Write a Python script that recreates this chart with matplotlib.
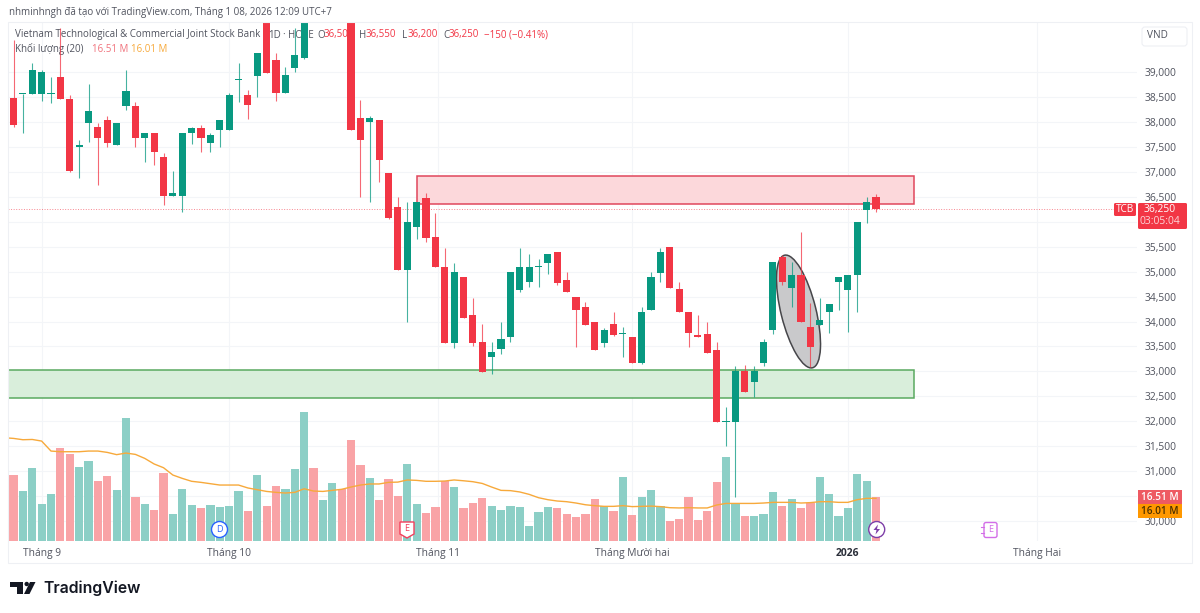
import numpy as np
import matplotlib
matplotlib.use("Agg")
import matplotlib.pyplot as plt
from matplotlib.patches import Ellipse, Rectangle, Circle, Polygon, FancyBboxPatch
from matplotlib.transforms import Affine2D

# ===== DATA =====

opens = [38470, 38550, 38560, 38560, 38550, 38900, 38465, 37490, 37970, 37890,
         38040, 37540, 38320, 38320, 37680, 37780, 37300, 36520, 36520, 37780,
         37885, 37585, 37830, 37830, 38840, 38530, 38925, 40200, 39240, 38580,
         39080, 39280, 40900, 40400, 40800, 41200, 40500, 38085, 37990, 38030,
         36980, 36290, 35040, 35890, 36480, 35690, 35100, 33575, 34890, 34140,
         33585, 33290, 33440, 33690, 34630, 34785, 35090, 35180, 35385, 34840,
         34485, 34285, 33990, 33575, 33945, 33740, 33690, 33175, 34225, 34980,
         35490, 34645, 34190, 33735, 33745, 33435, 31990, 31990, 33000, 32785,
         33175, 33830, 35300, 34675, 34930, 33890, 33930, 34185, 34785, 34630,
         34930, 36235, 36500]
highs = [39640, 38560, 39190, 39040, 38900, 39890, 38540, 37640, 38760, 37980,
         38110, 37980, 39050, 38400, 37780, 37780, 37380, 37015, 37780, 37900,
         37940, 37780, 38030, 38585, 39190, 38640, 39385, 40400, 39385, 39100,
         39880, 40200, 41000, 40900, 41300, 41300, 40700, 38440, 38125, 38030,
         36980, 36490, 36390, 36390, 36580, 36180, 35480, 35180, 34890, 34480,
         33945, 33585, 33985, 34985, 35480, 35350, 35245, 35350, 35385, 34985,
         34485, 34400, 33990, 33875, 34185, 33880, 33690, 34285, 34985, 35480,
         35490, 34785, 34190, 34130, 34000, 33585, 32295, 33100, 33130, 33100,
         33650, 35185, 35335, 35185, 35790, 34365, 34465, 34345, 34900, 34930,
         36000, 36490, 36550]
lows = [37900, 37780, 38550, 38425, 38370, 38450, 37000, 36880, 37600, 36735,
        37500, 37540, 38240, 37500, 37200, 37140, 36335, 36520, 36200, 37560,
        37400, 37400, 37500, 37830, 38405, 38050, 38490, 38985, 38425, 38580,
        38995, 39255, 40400, 40300, 40700, 40600, 37840, 36490, 36400, 36790,
        36060, 35040, 34000, 35650, 35590, 35090, 33575, 33460, 34075, 33515,
        32985, 32950, 33340, 33595, 34600, 34690, 34685, 34950, 34740, 34590,
        33495, 33930, 33430, 33495, 33700, 33290, 33175, 33140, 34225, 34800,
        34680, 34185, 33495, 33685, 33375, 31990, 31505, 30490, 32590, 32495,
        33100, 33750, 34730, 34295, 33985, 33080, 33930, 33765, 34230, 33795,
        34195, 35970, 36200]
closes = [37940, 38575, 39050, 39000, 38575, 38465, 37010, 37540, 38225, 37680,
          37585, 37980, 38610, 37680, 37780, 37390, 36520, 36575, 37780, 37885,
          37685, 37740, 38030, 38530, 38865, 38330, 39385, 38985, 38585, 38940,
          39345, 40100, 40400, 40800, 41200, 40600, 37840, 37630, 38085, 37240,
          36080, 35040, 36000, 36390, 35680, 35090, 33575, 34985, 34075, 33575,
          32985, 33380, 33640, 34985, 35090, 35090, 35120, 35350, 34780, 34590,
          34230, 33930, 33430, 33830, 33735, 33765, 33175, 34185, 34890, 35385,
          34680, 34185, 33775, 33685, 33375, 31990, 32015, 33000, 32590, 33000,
          33590, 35185, 34785, 34930, 33985, 33485, 34030, 34345, 34900, 34930,
          36000, 36390, 36250]

# volume in millions
volumes = [24.75, 18.6, 27.25, 13.75, 17.6, 35, 32.5, 27.75, 29.9, 22.5,
           24.4, 19, 46.25, 16.5, 13.75, 11.75, 25.6, 10.25, 19.5, 13.5,
           12.25, 13.5, 12.75, 13.25, 18.6, 11.25, 24.9, 13.25, 20.5, 19.6,
           26.9, 48.5, 27.4, 15.25, 21.75, 19.6, 37.75, 28.6, 23.6, 15.5,
           23.4, 16.75, 29, 13.75, 10.5, 12.75, 22.5, 20.4, 12.5, 14.25,
           16, 13, 11.5, 13, 12.75, 5.5, 11, 12.75, 12.25, 10,
           9, 10.25, 15.75, 13, 11.25, 24.1, 9.75, 16.5, 19, 13,
           7.5, 8.25, 16.5, 7.75, 11.25, 22.25, 31.4, 14.4, 9.25, 9.5,
           10, 18.5, 13, 15.6, 12.25, 14.25, 24.1, 17.5, 9.5, 12.25,
           25.25, 22.6, 16.51]

# volume MA(20), first value belongs to the bar just left of the chart
vol_ma = [38.75, 38.5, 38, 38.1, 37.5, 33.75, 33.5, 33.5, 33.5, 33.75,
          33.75, 33.25, 32.4, 33, 32.5, 31, 28.9, 27.5, 24.75, 23.5,
          22.4, 22, 21.5, 21, 21, 21, 19.9, 19.25, 18.6, 18.25,
          18, 18.25, 19.6, 18.75, 18.6, 19, 19.4, 20.25, 21, 21.4,
          21.4, 22, 22.1, 22.9, 22.75, 22.4, 22.4, 22.5, 22.9, 22.6,
          22.25, 21.6, 20.25, 19, 18.9, 18.4, 17.5, 16.25, 15.5, 15,
          14.75, 14.25, 13.6, 13.25, 13, 13, 13.25, 12.9, 13, 13.1,
          12.9, 12.5, 12.4, 12.5, 12.4, 12.4, 13.5, 14.1, 14.1, 14.1,
          14.1, 14.25, 14.5, 14.5, 14.5, 14.25, 14.4, 14.75, 14.75, 14.5,
          14.5, 15.5, 16, 16.01]

price_ticks = [30000, 30500, 31000, 31500, 32000, 32500, 33000, 33500, 34000, 34500,
               35000, 35500, 36000, 36500, 37000, 37500, 38000, 38500, 39000]
hidden_ticks = [30500, 36000]  # covered by the tags in the original
month_pos = [3, 23, 45.3, 66, 89, 109.2]
month_labels = ["Tháng 9", "Tháng 10", "Tháng 11", "Tháng Mười hai", "2026", "Tháng Hai"]

resistance = (36350, 36925)
support = (32460, 33020)
zone_span = {"red": (43.05, 96.05), "green": (-0.55, 96.05)}
last_price = 36250

# ===== CONFIG =====

UP = "#089981"
DOWN = "#f23645"
UP_VOL = "#8ccfc6"
DOWN_VOL = "#f9a3a6"
GRID = "#f3f5f8"
TXT = "#50535e"
FS = 7.0
W, H = 1200, 613

plt.rcParams["font.family"] = ["Open Sans", "DejaVu Sans"]

fig = plt.figure(figsize=(W / 100, H / 100), dpi=100, facecolor="white")

# chart pane in pixels: x 8..1137, y 22..541
L, R, T, B = 8, 1137, 22, 541
pos = [L / W, 1 - B / H, (R - L) / W, (B - T) / H]

# pixel coords with y going down, for things placed on the picture itself
px = Affine2D().scale(1, -1).translate(0, H)

ax = fig.add_axes(pos, facecolor="white")
ax.set_xlim((L - 13.5) / 9.375, (R - 13.5) / 9.375)
ax.set_ylim(39000 - (B - 72) * 20.04, 39000 + (72 - T) * 20.04)

for s in ax.spines.values():
    s.set_visible(False)

ax.set_yticks(price_ticks, ["" if p in hidden_ticks else f"{p:,}" for p in price_ticks])
ax.yaxis.tick_right()
ax.tick_params(axis="y", length=0, pad=5.5, labelsize=7.4, labelcolor=TXT)
ax.set_xticks(month_pos, month_labels)
ax.tick_params(axis="x", length=0, pad=5, labelsize=7.4, labelcolor=TXT)
ax.get_xticklabels()[4].set_fontweight("bold")
ax.get_xticklabels()[4].set_color("#2a2e39")
ax.grid(True, color=GRID, linewidth=0.8)
ax.set_axisbelow(True)

# zones
for (lo, hi), key, edge, fill in [(resistance, "red", "#e0475c", "#fcd8db"),
                                  (support, "green", "#5aa960", "#d9eedb")]:
    x0, x1 = zone_span[key]
    ax.add_patch(Rectangle((x0, lo), x1 - x0, hi - lo, facecolor=fill, edgecolor=edge,
                           linewidth=1.1, zorder=1))

# ellipse marking, drawn in pixel space since it is tilted on screen
ax.add_patch(Ellipse((798.5, 311.5), 116, 35, angle=76, transform=px,
                     facecolor="#c9c9cb", edgecolor="#46464a", linewidth=1.1, zorder=1.5, clip_on=False))

# price line
ax.plot([ax.get_xlim()[0], (1114 - 13.5) / 9.375], [last_price, last_price], linestyle=":",
        color=DOWN, linewidth=0.7, alpha=0.6, zorder=1.6)

# legend text sits under the candles
legend_parts = [
    (15, 35, "Vietnam Technological & Commercial Joint Stock Bank", TXT),
    (262, 35, "·", TXT), (268, 35, "1D", TXT), (282, 35, "·", TXT), (288, 35, "HOSE", TXT),
    (317, 35, "O", TXT), (324, 35, "36,500", DOWN),
    (359, 35, "H", TXT), (366, 35, "36,550", DOWN),
    (402, 35, "L", TXT), (408, 35, "36,200", DOWN),
    (443, 35, "C", TXT), (449, 35, "36,250", DOWN),
    (484, 35, "−150 (−0.41%)", DOWN),
    (15, 49, "Khối lượng (20)", TXT),
    (92, 49, "16.51 M", "#f0727c"),
    (131, 49, "16.01 M", "#f7a93b"),
]
for x, y, s, c in legend_parts:
    ax.text(x, y, s, color=c, fontsize=FS, va="center", ha="left", transform=px, zorder=1.8, clip_on=False)

# candles
idx = np.arange(len(closes))
opens, highs, lows, closes = map(np.array, (opens, highs, lows, closes))
colors = np.where(closes >= opens, UP, DOWN)
ax.vlines(idx, lows, highs, colors=colors, linewidth=0.8, alpha=0.75, zorder=2)
ax.bar(idx, np.abs(closes - opens), bottom=np.minimum(opens, closes), width=0.76,
       color=colors, linewidth=0, zorder=3)

# volume on its own scale, same pane
ax_vol = fig.add_axes(pos, facecolor="none")
ax_vol.set_xlim(ax.get_xlim())
ax_vol.set_ylim(0, (B - T) / 2.665)
ax_vol.axis("off")
vol_colors = np.where(closes >= opens, UP_VOL, DOWN_VOL)
ax_vol.bar(idx, volumes, width=0.88, color=vol_colors, linewidth=0)
ax_vol.plot(np.arange(-1, len(volumes)), vol_ma, color="#f7a93b", linewidth=1.0)

# chrome on top: header, tags, event marks, logo
top = fig.add_axes([0, 0, 1, 1], facecolor="none")
top.set_xlim(0, W)
top.set_ylim(H, 0)
top.axis("off")

top.add_patch(Rectangle((8, 22), 1184, 541, facecolor="none", edgecolor="#eef0f4", linewidth=0.8))
top.text(9, 13, "nhminhngh đã tạo với TradingView.com, Tháng 1 08, 2026 12:09 UTC+7",
         fontsize=FS, color=TXT, va="center")

# VND button
top.add_patch(FancyBboxPatch((1142, 27), 45, 19, boxstyle="round,pad=0,rounding_size=3",
                             facecolor="white", edgecolor="#eef0f4", linewidth=0.8))
top.text(1157, 36, "VND", fontsize=7.2, color=TXT, ha="center", va="center")

# price tags
top.add_patch(FancyBboxPatch((1114, 203), 22, 13, boxstyle="round,pad=0,rounding_size=1.5",
                             facecolor=DOWN, edgecolor="none"))
top.text(1125, 209.5, "TCB", fontsize=7.2, color="white", ha="center", va="center")
top.add_patch(FancyBboxPatch((1138, 203), 49, 26, boxstyle="round,pad=0,rounding_size=1.5",
                             facecolor=DOWN, edgecolor="none"))
top.text(1160, 209.5, "36,250", fontsize=7.4, color="white", ha="center", va="center")
top.text(1160, 221, "03:05:04", fontsize=7.4, color="#fcd5d8", ha="center", va="center")
top.add_patch(Rectangle((1138, 490), 44, 13.5, facecolor="#ee5a62", edgecolor="none"))
top.text(1160, 497, "16.51 M", fontsize=7.2, color="white", ha="center", va="center", fontweight="semibold")
top.add_patch(Rectangle((1138, 503.5), 44, 14.5, facecolor="#ff9800", edgecolor="none"))
top.text(1160, 511, "16.01 M", fontsize=7.2, color="#4a3000", ha="center", va="center", fontweight="semibold")

# D mark
top.add_patch(Circle((219.5, 529.5), 8, facecolor="white", edgecolor="#2962ff", linewidth=1.0))
top.text(219.5, 529.5, "D", fontsize=6.5, color="#2962ff", ha="center", va="center")
# E shield
top.add_patch(Polygon([(400, 522), (414, 522), (414, 534), (407, 538), (400, 534)],
                      facecolor="white", edgecolor="#f23f5c", linewidth=1.0))
top.text(407, 528.5, "E", fontsize=6.5, color="#f23f5c", ha="center", va="center")
# lightning mark
top.add_patch(Circle((876.7, 529.5), 8, facecolor="white", edgecolor="#7e3fa8", linewidth=1.0))
top.add_patch(Polygon([(878, 524.5), (873.5, 530), (876.5, 530), (875.5, 534.5), (880, 529), (877, 529)],
                      facecolor="#7e3fa8", edgecolor="none"))
# future E flag
top.add_patch(FancyBboxPatch((984, 522.5), 13, 15, boxstyle="round,pad=0,rounding_size=2",
                             facecolor="white", edgecolor="#d36ee8", linewidth=1.0))
top.plot([981, 984], [527, 527], color="#d36ee8", linewidth=0.8)
top.plot([981, 984], [533, 533], color="#d36ee8", linewidth=0.8)
top.text(990.5, 530, "E", fontsize=6.5, color="#d36ee8", ha="center", va="center")

# logo
logo = "#131722"
top.add_patch(Polygon([(10, 582), (23, 582), (23, 594), (17, 594), (17, 586.5), (10, 586.5)], facecolor=logo, edgecolor="none"))
top.add_patch(Circle((26.7, 584), 2.2, facecolor=logo, edgecolor="none"))
top.add_patch(Polygon([(30, 582), (35.5, 582), (29.5, 594), (24, 594)], facecolor=logo, edgecolor="none"))
top.text(43.5, 588, "TradingView", fontsize=11.4, color=logo, va="center", fontweight="semibold", family="Inter")

fig.savefig("out.png", dpi=100)
